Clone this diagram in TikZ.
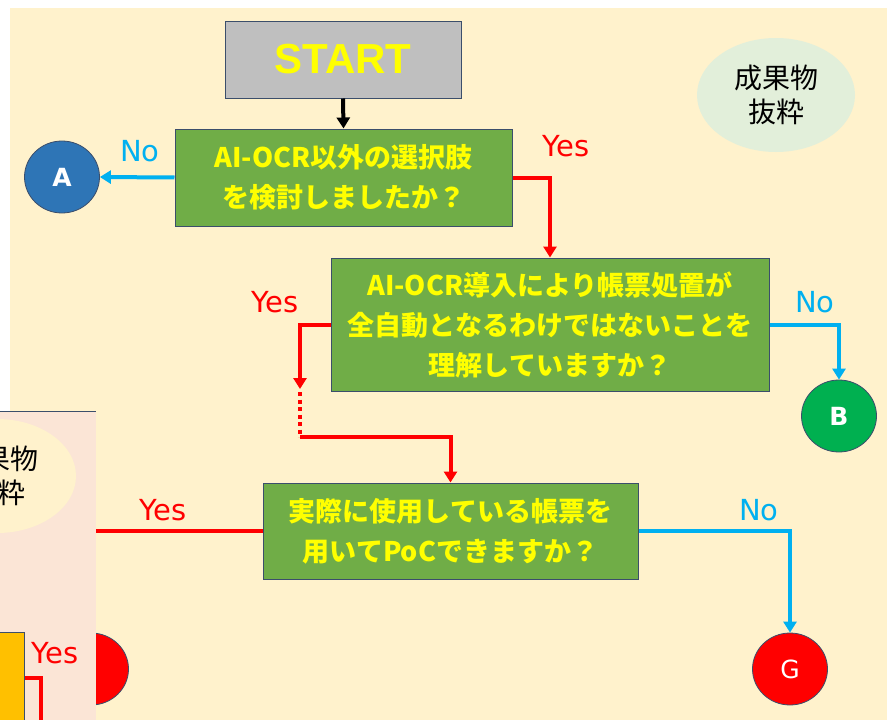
\documentclass[tikz,border=0pt]{standalone}
\usepackage{fontspec}
\setmainfont{DejaVu Sans}
\newfontfamily\jp{Noto Sans CJK JP}
\newfontfamily\lib{Liberation Sans}
\usetikzlibrary{arrows.meta,shapes.geometric}
\definecolor{beige}{HTML}{FFF2CC}
\definecolor{pinkbg}{HTML}{FBE5D6}
\definecolor{boxgreen}{HTML}{70AD47}
\definecolor{txtyellow}{HTML}{FFFF00}
\definecolor{startgray}{HTML}{BFBFBF}
\definecolor{edge}{HTML}{3B4E6B}
\definecolor{noblue}{HTML}{00B0F0}
\definecolor{yesred}{HTML}{FF0000}
\definecolor{circA}{HTML}{2E75B6}
\definecolor{circB}{HTML}{00B050}
\definecolor{ellgreen}{HTML}{E2EFDA}
\definecolor{orangebox}{HTML}{FFC000}
\tikzset{
  qbox/.style={draw=edge, line width=1pt, fill=boxgreen, text=txtyellow, align=center, inner sep=0pt,
    font=\jp\bfseries\fontsize{27}{40}\selectfont},
  endcirc/.style={ellipse, draw=edge, line width=0.8pt, minimum width=75pt, minimum height=72pt, inner sep=0pt, text=white},
  yesline/.style={draw=yesred, line width=4pt},
  noline/.style={draw=noblue, line width=4pt},
  tip/.style={-{Triangle[width=13pt,length=11pt]}},
  yeslbl/.style={text=yesred, font=\fontsize{29}{32}\selectfont, inner sep=0pt},
  nolbl/.style={text=noblue, font=\fontsize{29}{32}\selectfont, inner sep=0pt},
  memo/.style={ellipse, minimum width=158pt, minimum height=114pt, inner sep=0pt, align=center,
    font=\jp\fontsize{28}{34}\selectfont, text=black}
}
\begin{document}
\begin{tikzpicture}[x=1pt,y=-1pt]
\useasboundingbox (0,0) rectangle (887,720);
\fill[white] (0,0) rectangle (887,720);
\fill[beige] (10,8) rectangle (887,720);

% partially hidden red circle behind left panel
\node[endcirc, fill=yesred] (E) at (91,669) {};

% nodes
\node[draw=edge, line width=1pt, fill=startgray, minimum width=236pt, minimum height=77pt, inner sep=0pt,
  text=txtyellow, font=\lib\bfseries\fontsize{42}{46}\selectfont] (start) at (343,59.5) {START};
\node[qbox, minimum width=337pt, minimum height=97pt] (q1) at (343.5,177.5) {AI-OCR以外の選択肢\\を検討しましたか？};
\node[qbox, minimum width=438pt, minimum height=133pt] (q2) at (550,324.5) {AI-OCR導入により帳票処置が\\全自動となるわけではないことを\\理解していますか？};
\node[qbox, minimum width=375pt, minimum height=96pt] (q3) at (450.5,531) {実際に使用している帳票を\\用いてPoCできますか？};

\node[endcirc, fill=circA, font=\bfseries\fontsize{25}{28}\selectfont] (A) at (62,177) {A};
\node[endcirc, fill=circB, font=\bfseries\fontsize{25}{28}\selectfont] (B) at (839,416) {B};
\node[endcirc, fill=yesred, font=\fontsize{25}{28}\selectfont] (G) at (790,669) {G};

\node[memo, fill=ellgreen] (memo) at (776,95) {成果物\\抜粋};

% connectors
\draw[line width=4pt, tip] (start.south) -- (q1.north);
\draw[noline, tip] (q1.west) -- (A.east);
\node[nolbl] (no1) at (140,151) {No};
\draw[yesline, tip] (q1.east) -| (q2.north);
\node[yeslbl] (yes1) at (566,146) {Yes};

\coordinate (d1) at (300,389);
\coordinate (d2) at (300,437);
\draw[yesline, tip] (q2.west) -| (d1);
\draw[draw=yesred, line width=4pt, dash pattern=on 4pt off 3.5pt] (300,392) -- (d2);
\draw[yesline, tip] (d2) -| (q3.north);
\node[yeslbl] (yes2) at (275,302) {Yes};

\draw[noline, tip] (q2.east) -| (B.north);
\node[nolbl] (no2) at (815,302) {No};

\coordinate (l3) at (60,531);
\draw[yesline] (q3.west) -- (l3);
\node[yeslbl] (yes3) at (163,510) {Yes};

\draw[noline, tip] (q3.east) -| (G.north);
\node[nolbl] (no3) at (759,510) {No};

% overlapping left panel
\fill[pinkbg] (0,411) rectangle (96,720);
\begin{scope}
\clip (0,411) rectangle (96,720);
\node[memo, fill=beige] (memo2) at (-3,476) {成果物\\抜粋};
\node[draw=edge, line width=1pt, fill=orangebox, minimum width=100pt, minimum height=100pt, inner sep=0pt, anchor=north east] (obox) at (25,632) {};
\coordinate (o1) at (41,730);
\draw[yesline] (obox.east |- 0,678) -| (o1);
\node[yeslbl] (yes4) at (55,653) {Yes};
\end{scope}
\draw[edge, line width=1pt] (0,411) -- (96,411);
\end{tikzpicture}
\end{document}
